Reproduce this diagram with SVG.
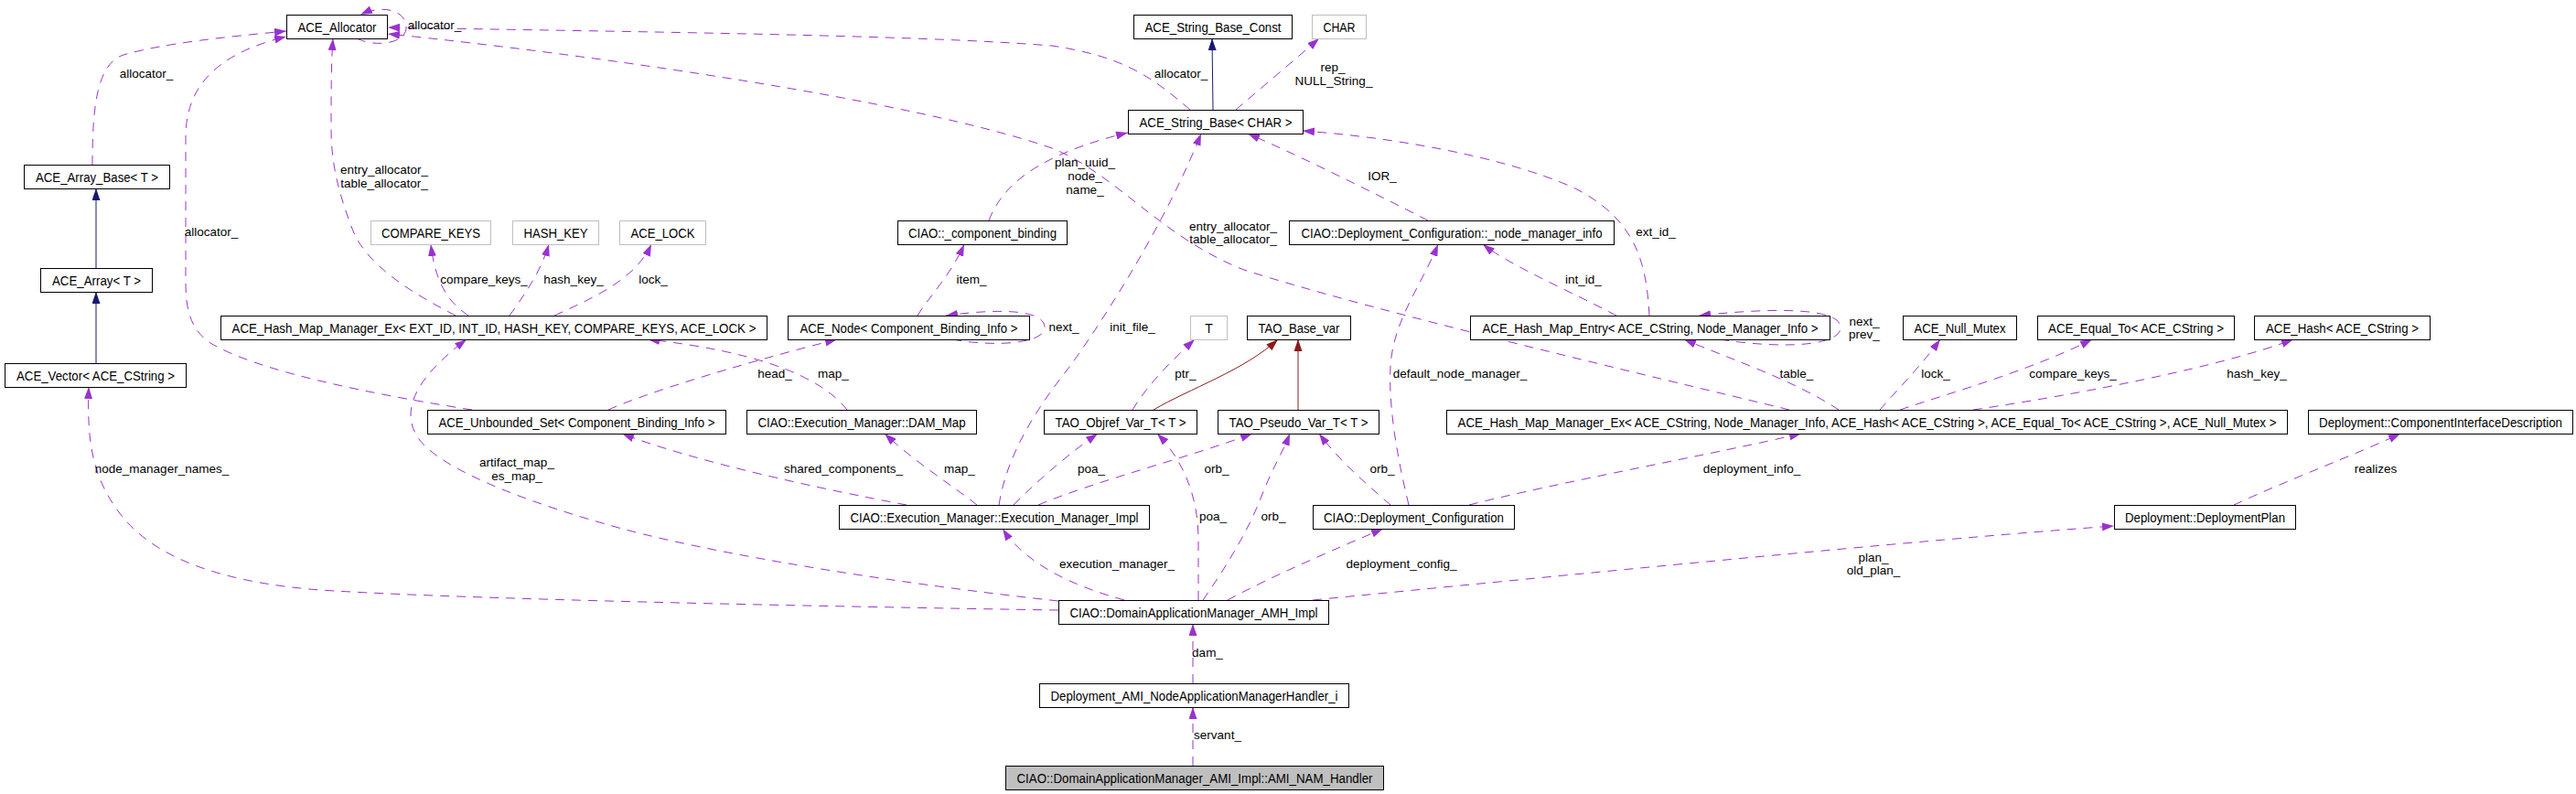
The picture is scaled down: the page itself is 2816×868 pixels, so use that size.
<svg xmlns="http://www.w3.org/2000/svg" width="2816" height="868" viewBox="0 0 2816 868">
<style>
rect{fill:#fff;stroke:#000;stroke-width:1}
.g rect{stroke:#bfbfbf}
.m rect{fill:#bfbfbf}
text{font-family:"Liberation Sans",Arial,sans-serif;font-size:14px;fill:#000;text-anchor:middle}
.l{font-size:13.5px}
.e{fill:none;stroke:#9a32cd;stroke-width:1;stroke-dasharray:10,8;marker-end:url(#ap)}
.i{fill:none;stroke:#191970;stroke-width:1;marker-end:url(#ab)}
.r{fill:none;stroke:#8b1a1a;stroke-width:1;marker-end:url(#ar)}
</style>
<defs>
<marker id="ap" viewBox="0 0 13 9" refX="13" refY="4.5" markerWidth="13" markerHeight="9" markerUnits="userSpaceOnUse" orient="auto"><path d="M0,0 L13,4.5 L0,9 z" fill="#9a32cd"/></marker>
<marker id="ab" viewBox="0 0 13 9" refX="13" refY="4.5" markerWidth="13" markerHeight="9" markerUnits="userSpaceOnUse" orient="auto"><path d="M0,0 L13,4.5 L0,9 z" fill="#191970"/></marker>
<marker id="ar" viewBox="0 0 13 9" refX="13" refY="4.5" markerWidth="13" markerHeight="9" markerUnits="userSpaceOnUse" orient="auto"><path d="M0,0 L13,4.5 L0,9 z" fill="#8b1a1a"/></marker>
</defs>
<rect x="0" y="0" width="2816" height="868" style="fill:#fff;stroke:none"/>
<g id="edges">
<path class="e" d="M1301,120 C1260,85 1230,62 1150,50 C1000,38 700,35 424,30"/>
<text class="l" x="1291" y="85">allocator_</text>
<path class="e" d="M1956,448 C1800,410 1500,340 1360,295 C1270,260 1220,190 1150,162 C1000,110 650,60 424,37"/>
<text class="l" x="1348" y="252">entry_allocator_</text><text class="l" x="1348" y="266">table_allocator_</text>
<path class="e" d="M390,42 C410,52 444,48 444,30 C444,12 420,4 394,16"/>
<text class="l" x="475" y="32">allocator_</text>
<path class="e" d="M101,180 C101,120 105,70 135,60 C180,47 250,40 313,34"/>
<text class="l" x="160" y="85">allocator_</text>
<path class="e" d="M516,448 C400,430 280,405 230,375 C200,355 203,320 203,290 L203,150 C203,100 230,60 313,40"/>
<text class="l" x="231" y="258">allocator_</text>
<path class="e" d="M498,345 C450,320 400,290 385,250 C370,210 362,180 362,140 C362,100 362,70 364,42"/>
<text class="l" x="420" y="190">entry_allocator_</text><text class="l" x="420" y="205">table_allocator_</text>
<path class="e" d="M512,345 C490,330 476,310 471,267"/>
<text class="l" x="529" y="310">compare_keys_</text>
<path class="e" d="M557,345 C575,320 592,295 600,267"/>
<text class="l" x="627" y="310">hash_key_</text>
<path class="e" d="M606,345 C650,325 695,305 712,267"/>
<text class="l" x="714" y="310">lock_</text>
<path class="i" d="M105,293 L105,206"/>
<path class="i" d="M105,397 L105,319"/>
<path class="e" d="M1157,667 C900,663 500,655 350,645 C220,635 160,600 130,560 C100,520 95,480 97,423"/>
<text class="l" x="177" y="517">node_manager_names_</text>
<path class="e" d="M1157,657 C1000,640 800,610 680,578 C560,545 480,510 458,480 C440,455 445,420 510,371"/>
<text class="l" x="565" y="510">artifact_map_</text><text class="l" x="565" y="525">es_map_</text>
<path class="e" d="M991,552 C900,535 760,505 680,474"/>
<text class="l" x="922" y="517">shared_components_</text>
<path class="e" d="M665,448 C700,432 800,400 915,371"/>
<text class="l" x="847" y="413">head_</text>
<path class="e" d="M926,448 Q880,390 708,371"/>
<text class="l" x="911" y="413">map_</text>
<path class="e" d="M1003,345 C1015,325 1040,300 1054,267"/>
<text class="l" x="1062" y="310">item_</text>
<path class="e" d="M1041,371 C1090,380 1142,375 1142,358 C1142,340 1100,336 1034,345"/>
<text class="l" x="1163" y="362">next_</text>
<path class="e" d="M1081,241 C1095,205 1130,170 1233,145"/>
<text class="l" x="1186" y="182">plan_uuid_</text><text class="l" x="1186" y="197">node_</text><text class="l" x="1186" y="212">name_</text>
<path class="e" d="M1092,552 C1100,500 1130,450 1170,400 C1220,330 1280,230 1313,146"/>
<text class="l" x="1238" y="362">init_file_</text>
<path class="e" d="M1561,241 C1500,210 1420,170 1364,146"/>
<text class="l" x="1511" y="197">IOR_</text>
<path class="e" d="M1803,345 C1800,290 1790,240 1720,205 C1640,170 1520,150 1424,143"/>
<text class="l" x="1810" y="258">ext_id_</text>
<path class="e" d="M1351,120 C1380,95 1410,70 1442,42"/>
<text class="l" x="1457" y="78">rep_</text><text class="l" x="1458" y="93">NULL_String_</text>
<path class="i" d="M1326,120 L1325,42"/>
<path class="e" d="M1767,345 C1720,320 1650,290 1621,267"/>
<text class="l" x="1731" y="310">int_id_</text>
<path class="e" d="M1540,552 C1525,490 1518,440 1520,400 C1523,350 1555,310 1572,267"/>
<text class="l" x="1596" y="413">default_node_manager_</text>
<path class="e" d="M1880,371 C1950,382 2012,378 2012,358 C2012,338 1950,335 1857,345"/>
<text class="l" x="2038" y="356">next_</text><text class="l" x="2038" y="370">prev_</text>
<path class="e" d="M2010,448 C1960,415 1890,392 1841,371"/>
<text class="l" x="1964" y="413">table_</text>
<path class="e" d="M2055,448 C2075,425 2100,400 2121,371"/>
<text class="l" x="2116" y="413">lock_</text>
<path class="e" d="M2077,448 C2130,430 2220,405 2287,371"/>
<text class="l" x="2266" y="413">compare_keys_</text>
<path class="e" d="M2157,448 C2280,430 2430,400 2507,371"/>
<text class="l" x="2467" y="413">hash_key_</text>
<path class="e" d="M1606,552 C1700,528 1880,495 1969,474"/>
<text class="l" x="1915" y="517">deployment_info_</text>
<path class="r" d="M1261,448 C1300,425 1360,405 1397,371"/>
<path class="r" d="M1419,448 L1419,371"/>
<path class="e" d="M1238,448 C1255,420 1280,395 1306,371"/>
<text class="l" x="1296" y="413">ptr_</text>
<path class="e" d="M1108,552 C1140,520 1170,495 1200,474"/>
<text class="l" x="1193" y="517">poa_</text>
<path class="e" d="M1135,552 C1200,525 1300,500 1369,474"/>
<text class="l" x="1330" y="517">orb_</text>
<path class="e" d="M1068,552 C1040,530 1000,505 967,474"/>
<text class="l" x="1049" y="517">map_</text>
<path class="e" d="M1310,656 L1310,590 C1310,545 1295,505 1265,474"/>
<text class="l" x="1326" y="569">poa_</text>
<path class="e" d="M1315,656 C1340,620 1365,580 1380,540 C1392,510 1402,495 1410,474"/>
<text class="l" x="1392" y="569">orb_</text>
<path class="e" d="M1520,552 C1495,530 1465,505 1442,474"/>
<text class="l" x="1511" y="517">orb_</text>
<path class="e" d="M1229,656 C1170,640 1120,615 1096,578"/>
<text class="l" x="1221" y="621">execution_manager_</text>
<path class="e" d="M1342,656 C1390,630 1460,600 1512,578"/>
<text class="l" x="1532" y="621">deployment_config_</text>
<path class="e" d="M1435,656 C1700,630 2100,590 2311,575"/>
<text class="l" x="2048" y="614">plan_</text><text class="l" x="2048" y="628">old_plan_</text>
<path class="e" d="M2442,552 C2500,525 2580,495 2624,474"/>
<text class="l" x="2597" y="517">realizes</text>
<path class="e" d="M1304,747 L1304,682"/>
<text class="l" x="1320" y="718">dam_</text>
<path class="e" d="M1304,837 L1304,773"/>
<text class="l" x="1331" y="808">servant_</text>
</g>
<g id="n-allocator"><rect x="313.5" y="16.5" width="110" height="26"/><text x="368.5" y="34.5" textLength="86" lengthAdjust="spacingAndGlyphs">ACE_Allocator</text></g>
<g id="n-strconst"><rect x="1239.5" y="16.5" width="173" height="26"/><text x="1326" y="34.5" textLength="149" lengthAdjust="spacingAndGlyphs">ACE_String_Base_Const</text></g>
<g id="n-char" class="g"><rect x="1434.5" y="16.5" width="59" height="26"/><text x="1464" y="34.5" textLength="35" lengthAdjust="spacingAndGlyphs">CHAR</text></g>
<g id="n-arraybase"><rect x="26.5" y="180.5" width="159" height="26"/><text x="106" y="198.5" textLength="134" lengthAdjust="spacingAndGlyphs">ACE_Array_Base&lt; T &gt;</text></g>
<g id="n-strbase"><rect x="1233.5" y="120.5" width="191" height="26"/><text x="1329" y="138.5" textLength="167" lengthAdjust="spacingAndGlyphs">ACE_String_Base&lt; CHAR &gt;</text></g>
<g id="n-comparekeys" class="g"><rect x="405.5" y="241.5" width="131" height="26"/><text x="471" y="259.5" textLength="108" lengthAdjust="spacingAndGlyphs">COMPARE_KEYS</text></g>
<g id="n-hashkey" class="g"><rect x="560.5" y="241.5" width="94" height="26"/><text x="607.5" y="259.5" textLength="70" lengthAdjust="spacingAndGlyphs">HASH_KEY</text></g>
<g id="n-acelock" class="g"><rect x="677.5" y="241.5" width="94" height="26"/><text x="724.5" y="259.5" textLength="70" lengthAdjust="spacingAndGlyphs">ACE_LOCK</text></g>
<g id="n-compbinding"><rect x="981.5" y="241.5" width="185" height="26"/><text x="1074" y="259.5" textLength="162" lengthAdjust="spacingAndGlyphs">CIAO::_component_binding</text></g>
<g id="n-nmi"><rect x="1409.5" y="241.5" width="355" height="26"/><text x="1587" y="259.5" textLength="329" lengthAdjust="spacingAndGlyphs">CIAO::Deployment_Configuration::_node_manager_info</text></g>
<g id="n-array"><rect x="44.5" y="293.5" width="122" height="26"/><text x="105.5" y="311.5" textLength="97" lengthAdjust="spacingAndGlyphs">ACE_Array&lt; T &gt;</text></g>
<g id="n-hmmext"><rect x="241.5" y="345.5" width="597" height="26"/><text x="540" y="363.5" textLength="573" lengthAdjust="spacingAndGlyphs">ACE_Hash_Map_Manager_Ex&lt; EXT_ID, INT_ID, HASH_KEY, COMPARE_KEYS, ACE_LOCK &gt;</text></g>
<g id="n-acenode"><rect x="861.5" y="345.5" width="264" height="26"/><text x="993.5" y="363.5" textLength="238" lengthAdjust="spacingAndGlyphs">ACE_Node&lt; Component_Binding_Info &gt;</text></g>
<g id="n-t" class="g"><rect x="1301.5" y="345.5" width="40" height="26"/><text x="1321.5" y="363.5">T</text></g>
<g id="n-taobase"><rect x="1363.5" y="345.5" width="113" height="26"/><text x="1420" y="363.5" textLength="89" lengthAdjust="spacingAndGlyphs">TAO_Base_var</text></g>
<g id="n-hme"><rect x="1607.5" y="345.5" width="393" height="26"/><text x="1804" y="363.5" textLength="367" lengthAdjust="spacingAndGlyphs">ACE_Hash_Map_Entry&lt; ACE_CString, Node_Manager_Info &gt;</text></g>
<g id="n-nullmutex"><rect x="2080.5" y="345.5" width="124" height="26"/><text x="2142.5" y="363.5" textLength="100" lengthAdjust="spacingAndGlyphs">ACE_Null_Mutex</text></g>
<g id="n-equalto"><rect x="2227.5" y="345.5" width="215" height="26"/><text x="2335" y="363.5" textLength="192" lengthAdjust="spacingAndGlyphs">ACE_Equal_To&lt; ACE_CString &gt;</text></g>
<g id="n-acehash"><rect x="2464.5" y="345.5" width="192" height="26"/><text x="2560.5" y="363.5" textLength="167" lengthAdjust="spacingAndGlyphs">ACE_Hash&lt; ACE_CString &gt;</text></g>
<g id="n-vector"><rect x="5.5" y="397.5" width="198" height="26"/><text x="104.5" y="415.5" textLength="173" lengthAdjust="spacingAndGlyphs">ACE_Vector&lt; ACE_CString &gt;</text></g>
<g id="n-unbset"><rect x="467.5" y="448.5" width="326" height="26"/><text x="630.5" y="466.5" textLength="302" lengthAdjust="spacingAndGlyphs">ACE_Unbounded_Set&lt; Component_Binding_Info &gt;</text></g>
<g id="n-dammap"><rect x="816.5" y="448.5" width="251" height="26"/><text x="942" y="466.5" textLength="227" lengthAdjust="spacingAndGlyphs">CIAO::Execution_Manager::DAM_Map</text></g>
<g id="n-objref"><rect x="1141.5" y="448.5" width="167" height="26"/><text x="1225" y="466.5" textLength="143" lengthAdjust="spacingAndGlyphs">TAO_Objref_Var_T&lt; T &gt;</text></g>
<g id="n-pseudo"><rect x="1331.5" y="448.5" width="176" height="26"/><text x="1419.5" y="466.5" textLength="152" lengthAdjust="spacingAndGlyphs">TAO_Pseudo_Var_T&lt; T &gt;</text></g>
<g id="n-hmmcstr"><rect x="1581.5" y="448.5" width="919" height="26"/><text x="2041" y="466.5" textLength="895" lengthAdjust="spacingAndGlyphs">ACE_Hash_Map_Manager_Ex&lt; ACE_CString, Node_Manager_Info, ACE_Hash&lt; ACE_CString &gt;, ACE_Equal_To&lt; ACE_CString &gt;, ACE_Null_Mutex &gt;</text></g>
<g id="n-cid"><rect x="2523.5" y="448.5" width="289" height="26"/><text x="2668" y="466.5" textLength="266" lengthAdjust="spacingAndGlyphs">Deployment::ComponentInterfaceDescription</text></g>
<g id="n-emimpl"><rect x="917.5" y="552.5" width="339" height="26"/><text x="1087" y="570.5" textLength="315" lengthAdjust="spacingAndGlyphs">CIAO::Execution_Manager::Execution_Manager_Impl</text></g>
<g id="n-depconf"><rect x="1435.5" y="552.5" width="220" height="26"/><text x="1545.5" y="570.5" textLength="197" lengthAdjust="spacingAndGlyphs">CIAO::Deployment_Configuration</text></g>
<g id="n-depplan"><rect x="2311.5" y="552.5" width="198" height="26"/><text x="2410.5" y="570.5" textLength="175" lengthAdjust="spacingAndGlyphs">Deployment::DeploymentPlan</text></g>
<g id="n-amh"><rect x="1157.5" y="656.5" width="295" height="26"/><text x="1305" y="674.5" textLength="271" lengthAdjust="spacingAndGlyphs">CIAO::DomainApplicationManager_AMH_Impl</text></g>
<g id="n-namh"><rect x="1136.5" y="747.5" width="338" height="26"/><text x="1305.5" y="765.5" textLength="314" lengthAdjust="spacingAndGlyphs">Deployment_AMI_NodeApplicationManagerHandler_i</text></g>
<g id="n-handler" class="m"><rect x="1099.5" y="837.5" width="413" height="26"/><text x="1306" y="855.5" textLength="389" lengthAdjust="spacingAndGlyphs">CIAO::DomainApplicationManager_AMI_Impl::AMI_NAM_Handler</text></g>
</svg>
